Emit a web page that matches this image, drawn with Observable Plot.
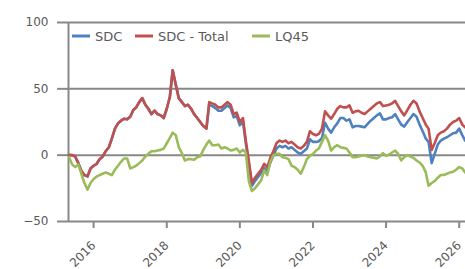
<!DOCTYPE html>
<html><head>
<meta charset="utf-8">
<script src="https://cdn.jsdelivr.net/npm/d3@7"></script>
<script src="https://cdn.jsdelivr.net/npm/@observablehq/plot@0.6"></script>
<style>body{margin:0;background:#fff;}</style></head><body>
<script>
const months = [
"2015-05","2015-06","2015-07","2015-08","2015-09","2015-10","2015-11","2015-12",
"2016-01","2016-02","2016-03","2016-04","2016-05","2016-06","2016-07","2016-08","2016-09","2016-10","2016-11","2016-12",
"2017-01","2017-02","2017-03","2017-04","2017-05","2017-06","2017-07","2017-08","2017-09","2017-10","2017-11","2017-12",
"2018-01","2018-02","2018-03","2018-04","2018-05","2018-06","2018-07","2018-08","2018-09","2018-10","2018-11","2018-12",
"2019-01","2019-02","2019-03","2019-04","2019-05","2019-06","2019-07","2019-08","2019-09","2019-10","2019-11","2019-12",
"2020-01","2020-02","2020-03","2020-04","2020-05","2020-06","2020-07","2020-08","2020-09","2020-10","2020-11","2020-12",
"2021-01","2021-02","2021-03","2021-04","2021-05","2021-06","2021-07","2021-08","2021-09","2021-10","2021-11","2021-12",
"2022-01","2022-02","2022-03","2022-04","2022-05","2022-06","2022-07","2022-08","2022-09","2022-10","2022-11","2022-12",
"2023-01","2023-02","2023-03","2023-04","2023-05","2023-06","2023-07","2023-08","2023-09","2023-10","2023-11","2023-12",
"2024-01","2024-02","2024-03","2024-04","2024-05","2024-06","2024-07","2024-08","2024-09","2024-10","2024-11","2024-12",
"2025-01","2025-02","2025-03","2025-04","2025-05","2025-06","2025-07","2025-08","2025-09","2025-10","2025-11","2025-12",
"2026-01","2026-02","2026-03"];

const sdc = [
0,0,-1,-6,-12,-15,-16,-10,
-8,-6.5,-3,-1,3,6,12.5,20,24,26,27.5,27,
29,34,36,40,43,38,35,31,33.5,31,30,28,
35,44,64,53,43,40,37,38,35,31,28,25,
22,20,38,37,35.5,33.5,33.5,35.5,37.5,35.5,28.5,29.5,
22.5,25.5,9,-7,-23,-19.5,-16.5,-13.5,-9.5,-12,-5.5,-0.5,
5,7,6,7,5,6,4,2,1,3,5,12,
10,10,10.5,13,24.5,20,17,21,24,28,28,26,
27,21,22,22,21.5,21,23.5,26,28,30,31.5,27,
27,28,28.6,31,27,23,21.5,25,28,31,29,23,
18,12.5,10,-6,1,8,11,12.5,13.5,15,16.5,17,
20,15,11];

const sdcTotal = [
0,0,-1,-6,-12,-15,-16,-10,
-8,-6.5,-3,-1,3,6,12.5,20,24,26,27.5,27,
29,34,36,40,43,38,35,31,33.5,31,30,28,
35,44,64,53,43,40,37,38,35,31,28,25,
22,20,40,39,38,36,36,38,40,38,31,32,
25,28,11,-5,-21,-17,-14,-11,-6.5,-9,-2,3,
9,11,10,11,9,10,8,6,5,7,10,18,
16,15,16,20,33,30,27.5,31,35,37,36,36,
37.5,32,33,33.5,32,31,33,35,37,39,40,37,
37.5,38,39,41,37,33,30,34,38,41,39,33,
28,23,20,4,9,15,17,18,20,23,25,26,
28,23,21];

const lq45 = [
-1.5,-7,-9,-7,-14,-21,-26,-21,
-18,-16,-15,-14,-13,-14,-15,-11,-8,-5,-2.5,-2.5,
-10,-9,-8,-6,-4,-1,1,3,3,3.5,4,5,
9,13,17,15,6,1.5,-4,-3,-3,-3.5,-1.5,-1,
4,8,11,7.5,7.5,8,5,6,5,3.5,4,5,
2,4,2,-20,-27,-25,-22,-19,-11.5,-15,-5,0,
1,1,-1.5,-2,-3,-8,-9,-11,-14,-9,-3,-0.5,
1,3.5,5,10,15,11,3.5,6,7.5,6,5.5,5,
2,-1.5,-1.5,-1,-0.5,0,-1,-1.5,-2,-2.5,-1,1.5,
-0.5,0.5,2,3.5,1,-4,-1.5,0,-1,-2,-4,-5.5,
-8,-13,-23,-21,-19.5,-17,-15,-15,-14,-13,-12.5,-11,
-9,-10,-13];

const seriesNames = ["SDC","SDC - Total","LQ45"];
const seriesColors = ["#4F81BD","#C0504D","#9BBB59"];
const yTicks = [-50,0,50,100];
const xDomain = [new Date("2015-04-25"), new Date("2026-03-05")];

const seriesRows = [sdc, sdcTotal, lq45].map(vals =>
  months.map((m, i) => ({date: new Date(m + "-01"), value: vals[i]})));

const chart = Plot.plot({
  width: 465, height: 269,
  marginTop: 22, marginBottom: 48, marginLeft: 68, marginRight: 0,
  style: {fontFamily: "DejaVu Sans, sans-serif", fontSize: "12px"},
  x: {type: "utc", domain: xDomain},
  y: {domain: [-50, 100]},
  marks: [
    ...yTicks.map(t => Plot.ruleY([t], {stroke: "#888888", strokeWidth: 2})),
    Plot.axisY({ticks: yTicks, tickSize: 11, tickPadding: 9, stroke: "#888888", strokeWidth: 2, fill: "#595959", label: null}),
    Plot.ruleX([xDomain[0]], {stroke: "#888888", strokeWidth: 2}),
    Plot.axisX({ticks: d3.utcYear.every(2), tickFormat: "%Y", tickRotate: -45, tickSize: 7, tickPadding: 15, stroke: "#888888", strokeWidth: 2, fill: "#595959", label: null}),
    ...seriesRows.map((r, s) => Plot.lineY(r, {x: "date", y: "value", stroke: seriesColors[s], strokeWidth: 2.6}))
  ]
});

// legend drawn inside the same SVG
const legLeft = [72, 135, 252];
const lg = d3.select(chart).append("g").attr("font-size", 13).attr("fill", "#595959");
seriesNames.forEach((name, i) => {
  lg.append("line").attr("x1", legLeft[i]).attr("x2", legLeft[i] + 18)
    .attr("y1", 36).attr("y2", 36).attr("stroke", seriesColors[i]).attr("stroke-width", 3);
  lg.append("text").attr("x", legLeft[i] + 23).attr("y", 36).attr("dy", "0.35em")
    .attr("text-anchor", "start").text(name);
});
document.body.appendChild(chart);
</script>
</body></html>
